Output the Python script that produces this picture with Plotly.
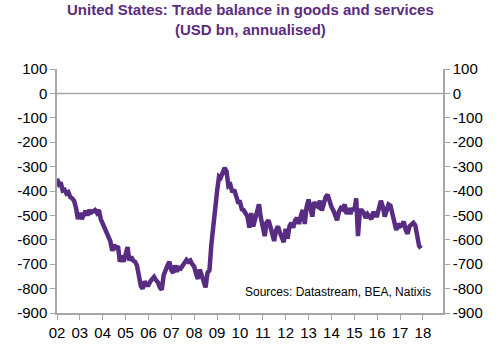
import pandas as pd
import plotly.graph_objects as go

# US trade balance in goods and services, USD bn annualised, monthly Jan 2002 - Dec 2017
balance_2002 = [-350, -372, -365, -398, -395, -410, -405, -425, -430, -440, -470, -515]
balance_2003 = [-490, -515, -500, -482, -500, -478, -488, -482, -478, -490, -478, -515]
balance_2004 = [-535, -545, -565, -585, -605, -645, -620, -640, -625, -690, -665, -690]
balance_2005 = [-660, -630, -685, -670, -685, -690, -705, -740, -790, -800, -770, -785]
balance_2006 = [-785, -770, -760, -752, -765, -775, -795, -805, -745, -720, -705, -690]
balance_2007 = [-725, -735, -705, -730, -715, -718, -705, -695, -682, -690, -685, -700]
balance_2008 = [-710, -740, -760, -722, -750, -770, -795, -735, -725, -620, -530, -480]
balance_2009 = [-400, -340, -345, -325, -305, -320, -380, -375, -405, -395, -420, -445]
balance_2010 = [-445, -475, -478, -490, -505, -550, -490, -545, -510, -480, -455, -510]
balance_2011 = [-560, -585, -530, -520, -545, -570, -605, -560, -545, -570, -590, -610]
balance_2012 = [-555, -595, -545, -530, -550, -520, -510, -535, -500, -478, -535, -465]
balance_2013 = [-435, -470, -505, -445, -460, -465, -440, -480, -445, -425, -415, -445]
balance_2014 = [-465, -480, -500, -520, -485, -470, -475, -455, -495, -470, -495, -470]
balance_2015 = [-480, -430, -585, -480, -480, -490, -510, -495, -505, -515, -485, -500]
balance_2016 = [-500, -465, -440, -465, -505, -480, -455, -460, -490, -515, -560, -535]
balance_2017 = [-545, -540, -525, -560, -575, -545, -540, -530, -540, -590, -625, -635]

balance = (balance_2002 + balance_2003 + balance_2004 + balance_2005 + balance_2006
           + balance_2007 + balance_2008 + balance_2009 + balance_2010 + balance_2011
           + balance_2012 + balance_2013 + balance_2014 + balance_2015 + balance_2016
           + balance_2017)
months = pd.date_range("2002-01-01", periods=len(balance), freq="MS")

year_ticks = [f"{y}-01-01" for y in range(2002, 2019)]
year_labels = [f"{y % 100:02d}" for y in range(2002, 2019)]
y_ticks = list(range(-900, 101, 100))

purple = "#582C83"
axis_grey = "#A6A6A6"
font = "Liberation Sans, Arial, sans-serif"

fig = go.Figure()
fig.add_trace(go.Scatter(x=months, y=balance, mode="lines",
                         line=dict(color=purple, width=4.5), hoverinfo="skip",
                         showlegend=False))
# twin trace so the right-hand axis is drawn
fig.add_trace(go.Scatter(x=months, y=balance, mode="lines", yaxis="y2",
                         line=dict(color="rgba(0,0,0,0)", width=0), hoverinfo="skip",
                         showlegend=False))

yaxis_common = dict(range=[-900, 100], tickvals=y_ticks, ticktext=[str(v) for v in y_ticks],
                    showgrid=False, zeroline=False, showline=True, linecolor=axis_grey,
                    linewidth=1.5, ticks="outside", ticklen=5, tickcolor=axis_grey,
                    automargin=False,
                    tickfont=dict(family=font, size=15, color="#000000"))

fig.update_layout(
    width=500, height=346,
    margin=dict(l=57, r=57, t=69, b=33),
    paper_bgcolor="white", plot_bgcolor="white",
    xaxis=dict(type="date", range=["2002-01-01", "2018-11-18"],
               tickvals=year_ticks, ticktext=year_labels,
               showgrid=False, zeroline=False, showline=True, linecolor=axis_grey,
               linewidth=1.5, ticks="outside", ticklen=5, tickcolor=axis_grey,
               automargin=False,
               tickfont=dict(family=font, size=15, color="#000000")),
    yaxis=dict(**yaxis_common, side="left"),
    yaxis2=dict(**yaxis_common, side="right", overlaying="y"),
    shapes=[dict(type="line", xref="paper", yref="y", x0=0, x1=1, y0=0, y1=0,
                 line=dict(color=axis_grey, width=1.5))],
    annotations=[
        dict(text="<b>United States: Trade balance in goods and services<br>(USD bn, annualised)</b>",
             xref="paper", yref="paper", x=0.5, y=1.118, xanchor="center", yanchor="bottom",
             showarrow=False, align="center",
             font=dict(family=font, size=15, color="#5B2C7E")),
        dict(text="Sources: Datastream, BEA, Natixis", xref="paper", yref="y",
             x=0.975, y=-812, xanchor="right", yanchor="middle", showarrow=False,
             font=dict(family=font, size=12, color="#000000")),
    ],
)

fig.write_html("out.html")
